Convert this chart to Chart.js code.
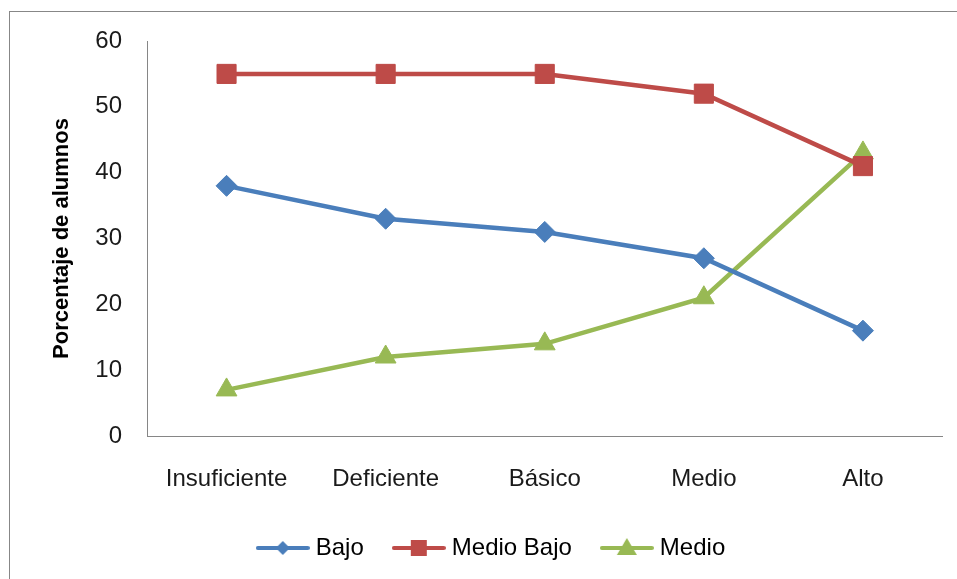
<!DOCTYPE html>
<html>
<head>
<meta charset="utf-8">
<script src="https://cdn.jsdelivr.net/npm/chart.js@4/dist/chart.umd.min.js"></script>
<style>
  html, body { margin: 0; padding: 0; background: #fff; overflow: hidden; }
  #frame { position: absolute; left: 9px; top: 11px; width: 1200px; height: 1000px; border: 1px solid #878787; }
  #wrap { position: absolute; left: 0; top: 0; width: 957px; height: 579px; }
</style>
</head>
<body>
<div id="frame"></div>
<div id="wrap"><canvas id="c" width="957" height="579"></canvas></div>
<script>
const categories = ['Insuficiente', 'Deficiente', 'Básico', 'Medio', 'Alto'];
const seriesNames = ['Bajo', 'Medio Bajo', 'Medio'];
const bajo = [38, 33, 31, 27, 16];
const medioBajo = [55, 55, 55, 52, 41];
const medio = [7, 12, 14, 21, 43];
const yTicks = [0, 10, 20, 30, 40, 50, 60];
const yTitle = 'Porcentaje de alumnos';

const colors = ['#4A7EBB', '#BE4B48', '#98B954'];
const styles = ['rectRot', 'rect', 'triangle'];
const radii = [10.5, 13.5, 12];
const FONT = '"Liberation Sans", Arial, sans-serif';

function legendSymbol(color, style) {
  const cv = document.createElement('canvas');
  cv.width = 54; cv.height = 24;
  const g = cv.getContext('2d');
  g.strokeStyle = color; g.lineWidth = 4; g.lineCap = 'round';
  g.beginPath(); g.moveTo(2, 12); g.lineTo(52, 12); g.stroke();
  g.fillStyle = color;
  g.beginPath();
  if (style === 'rectRot') {
    g.moveTo(27, 5); g.lineTo(34, 12); g.lineTo(27, 19); g.lineTo(20, 12);
  } else if (style === 'rect') {
    g.rect(19, 4, 16, 16);
  } else {
    g.moveTo(27, 2); g.lineTo(37, 19); g.lineTo(17, 19);
  }
  g.closePath(); g.fill();
  return cv;
}

const seriesData = [bajo, medioBajo, medio];
const datasets = seriesNames.map((name, i) => ({
  label: name,
  data: seriesData[i],
  borderColor: colors[i],
  backgroundColor: colors[i],
  borderWidth: 4.5,
  pointStyle: styles[i],
  pointRadius: radii[i],
  pointBorderWidth: 1,
  pointBackgroundColor: colors[i],
  pointBorderColor: colors[i],
  tension: 0,
  legendSymbol: legendSymbol(colors[i], styles[i])
}));

const legendShift = {
  id: 'legendShift',
  afterLayout(chart) {
    chart.legend.left += 22;
    chart.legend.right += 22;
  }
};

new Chart(document.getElementById('c'), {
  type: 'line',
  data: { labels: categories, datasets },
  plugins: [legendShift],
  options: {
    responsive: false,
    animation: false,
    devicePixelRatio: 1,
    layout: { padding: { left: 0, top: 41, right: 14, bottom: 9 } },
    plugins: {
      tooltip: { enabled: false },
      legend: {
        position: 'bottom',
        align: 'center',
        labels: {
          font: { family: FONT, size: 24 },
          color: '#1a1a1a',
          usePointStyle: true,
          pointStyleWidth: 42,
          padding: 34,
          generateLabels(chart) {
            return chart.data.datasets.map((ds, i) => ({
              text: ds.label,
              pointStyle: ds.legendSymbol,
              fillStyle: ds.backgroundColor,
              strokeStyle: ds.borderColor,
              lineWidth: 0,
              hidden: false,
              datasetIndex: i
            }));
          }
        }
      }
    },
    scales: {
      x: {
        offset: true,
        grid: { display: false, drawTicks: false },
        border: { display: true, color: '#868686', width: 1 },
        ticks: { font: { family: FONT, size: 24 }, color: '#1a1a1a', padding: 29, maxRotation: 0 },
        afterFit(s) { s.height = 66; }
      },
      y: {
        min: 0, max: 60,
        grid: { display: false, drawTicks: false },
        border: { display: true, color: '#868686', width: 1 },
        ticks: {
          stepSize: 10,
          font: { family: FONT, size: 24 },
          color: '#1a1a1a',
          padding: 25,
          callback: (v) => yTicks.includes(v) ? String(v) : ''
        },
        title: {
          display: true,
          text: yTitle,
          font: { family: FONT, size: 22, weight: 'bold' },
          color: '#000',
          padding: { top: 49, bottom: 0 }
        },
        afterFit(s) { s.width = 147; }
      }
    }
  }
});
</script>
</body>
</html>
